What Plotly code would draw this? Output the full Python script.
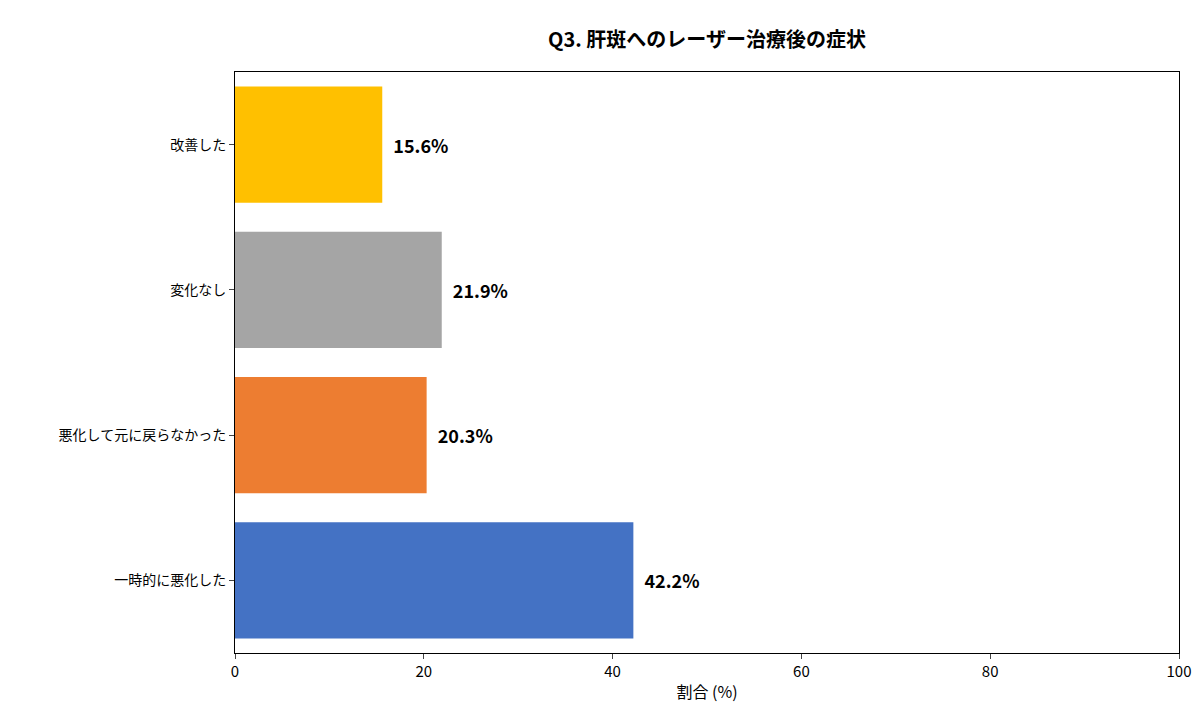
import plotly.graph_objects as go

categories = ["一時的に悪化した", "悪化して元に戻らなかった", "変化なし", "改善した"]
values = [42.2, 20.3, 21.9, 15.6]
colors = ["#4472C4", "#ED7D31", "#A5A5A5", "#FFC000"]

fig = go.Figure()
fig.add_trace(go.Bar(
    x=values, y=categories, orientation="h", width=0.8,
    marker=dict(color=colors, line=dict(width=0)),
    text=[f"<b>{v:.1f}%</b>" for v in values], textposition="outside",
    textfont=dict(size=18, color="black", family="Noto Sans CJK JP"),
    cliponaxis=False,
))

# value labels a bit away from the bar end
fig.update_traces(texttemplate="  %{text}")

fig.update_layout(
    title=dict(text="<b>Q3. 肝斑へのレーザー治療後の症状</b>", x=0.5, xref="paper",
               xanchor="center", y=0.965, font=dict(size=20, color="black")),
    font=dict(family="Noto Sans CJK JP", size=14, color="black"),
    width=1200, height=712,
    margin=dict(l=227, r=29, t=64, b=67),
    plot_bgcolor="white", paper_bgcolor="white",
    showlegend=False, bargap=0.2,
    xaxis=dict(range=[0, 100], dtick=20, title=dict(text="割合 (%)", font=dict(size=16), standoff=6),
               showline=True, linecolor="black", mirror=True, ticks="outside",
               showgrid=False, zeroline=False, tickfont=dict(size=15), automargin=False),
    yaxis=dict(showline=True, linecolor="black", mirror=True, ticks="outside",
               showgrid=False, tickfont=dict(size=14), automargin=False),
)

fig.write_html("out.html")
